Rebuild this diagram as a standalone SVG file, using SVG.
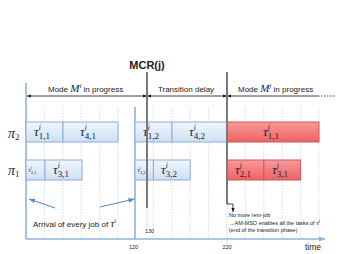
<svg xmlns="http://www.w3.org/2000/svg" width="339" height="254" viewBox="0 0 339 254">
<style>
.sans{font-family:"Liberation Sans",Arial,sans-serif;fill:#222}
.lbl{font-size:8px}
.math{font-family:"Liberation Serif","Times New Roman",serif;font-style:italic;fill:#1a2233}
.up{font-style:normal}
.tau{font-size:13px}
.sup{font-size:7.5px}
.sub{font-size:9px;font-style:normal}
.grid{stroke:#c3d6ee;stroke-width:0.8;stroke-dasharray:1.5 1.5}
.axis{stroke:#8fb3de;stroke-width:1.6;fill:none}
.bbox{fill:url(#gb);stroke:#8aaedb;stroke-width:1}
.rbox{fill:url(#gr);stroke:#cf5757;stroke-width:1}
.blk{stroke:#111;stroke-width:0.8;fill:none}
.gray{stroke:#7a7a7a;stroke-width:2;fill:none}
.blue{stroke:#5b8cc8;stroke-width:1.2;fill:none}
</style>
<defs>
<linearGradient id="gb" x1="0" y1="0" x2="0" y2="1"><stop offset="0" stop-color="#f1f6fd"/><stop offset="1" stop-color="#cfe0f4"/></linearGradient>
<linearGradient id="gr" x1="0" y1="0" x2="0" y2="1"><stop offset="0" stop-color="#f79a9a"/><stop offset="1" stop-color="#ee6262"/></linearGradient>
<marker id="ah" viewBox="0 0 10 10" refX="10" refY="5" markerWidth="5" markerHeight="5" orient="auto-start-reverse"><path d="M0,1 L10,5 L0,9 z" fill="#111"/></marker>
<marker id="ahb" viewBox="0 0 10 10" refX="10" refY="5" markerWidth="5" markerHeight="5" orient="auto"><path d="M0,1 L10,5 L0,9 z" fill="#5b8cc8"/></marker>
<marker id="ahs" viewBox="0 0 10 10" refX="10" refY="5" markerWidth="4" markerHeight="4" orient="auto"><path d="M0,1 L10,5 L0,9 z" fill="#8fb3de"/></marker>
</defs>
<rect width="339" height="254" fill="#fff"/>

<g id="grid">
<line class="grid" x1="44.4" y1="107" x2="44.4" y2="238"/>
<line class="grid" x1="62.8" y1="107" x2="62.8" y2="238"/>
<line class="grid" x1="81.2" y1="107" x2="81.2" y2="238"/>
<line class="grid" x1="99.6" y1="107" x2="99.6" y2="238"/>
<line class="grid" x1="118" y1="107" x2="118" y2="238"/>
<line class="grid" x1="153.4" y1="107" x2="153.4" y2="238"/>
<line class="grid" x1="171.8" y1="107" x2="171.8" y2="238"/>
<line class="grid" x1="190.2" y1="107" x2="190.2" y2="238"/>
<line class="grid" x1="208.6" y1="107" x2="208.6" y2="238"/>
<line class="grid" x1="245.4" y1="107" x2="245.4" y2="238"/>
<line class="grid" x1="263.8" y1="107" x2="263.8" y2="238"/>
<line class="grid" x1="282.2" y1="107" x2="282.2" y2="238"/>
<line class="grid" x1="300.6" y1="107" x2="300.6" y2="238"/>
<line class="grid" x1="319" y1="107" x2="319" y2="238"/>
</g>

<g id="axes">
<line class="axis" x1="26" y1="83" x2="26" y2="239"/>
<line class="axis" x1="135" y1="107" x2="135" y2="239"/>
<line class="axis" x1="26" y1="239" x2="325" y2="239" marker-end="url(#ahs)"/>
<text class="sans" x="133.5" y="249" font-size="5.5" text-anchor="middle">120</text>
<text class="sans" x="149.5" y="233" font-size="5.5" text-anchor="middle">130</text>
<text class="sans" x="227" y="249" font-size="5.5" text-anchor="middle">220</text>
<text class="sans" x="313" y="250" font-size="8.5" text-anchor="middle">time</text>
</g>

<g id="proc-labels">
<text class="math" x="8" y="138" font-size="14">π<tspan class="sub" font-size="10" dy="2">2</tspan></text>
<text class="math" x="8" y="175" font-size="14">π<tspan class="sub" font-size="10" dy="2">1</tspan></text>
</g>

<g id="t11i"><rect class="bbox" x="26" y="122" width="37" height="20"/>
<text class="math tau" x="34" y="135.5">τ<tspan class="sup" dy="-6">i</tspan><tspan class="sub" dx="-2" dy="9.5">1,1</tspan></text></g>
<g id="t41i"><rect class="bbox" x="63" y="122" width="55" height="20"/>
<text class="math tau" x="80" y="135.5">τ<tspan class="sup" dy="-6">i</tspan><tspan class="sub" dx="-2" dy="9.5">4,1</tspan></text></g>
<g id="t21i"><rect class="bbox" x="26" y="160" width="19" height="20"/>
<text class="math" x="28.5" y="172" font-size="6.5">τ<tspan font-size="4" dy="-3">i</tspan><tspan class="up" font-size="4.5" dx="-1" dy="4.5">2,1</tspan></text></g>
<g id="t31i"><rect class="bbox" x="45" y="160" width="37" height="20"/>
<text class="math tau" x="53" y="173.5">τ<tspan class="sup" dy="-6">i</tspan><tspan class="sub" dx="-2" dy="9.5">3,1</tspan></text></g>

<g id="t12i"><rect class="bbox" x="135" y="122" width="37" height="20"/>
<text class="math tau" x="143" y="135.5">τ<tspan class="sup" dy="-6">i</tspan><tspan class="sub" dx="-2" dy="9.5">1,2</tspan></text></g>
<g id="t42i"><rect class="bbox" x="172" y="122" width="55" height="20"/>
<text class="math tau" x="189" y="135.5">τ<tspan class="sup" dy="-6">i</tspan><tspan class="sub" dx="-2" dy="9.5">4,2</tspan></text></g>
<g id="t22i"><rect class="bbox" x="135" y="160" width="18.4" height="20"/>
<text class="math" x="137.5" y="172" font-size="6.5">τ<tspan font-size="4" dy="-3">i</tspan><tspan class="up" font-size="4.5" dx="-1" dy="4.5">2,2</tspan></text></g>
<g id="t32i"><rect class="bbox" x="153.4" y="160" width="36.8" height="20"/>
<text class="math tau" x="161" y="173.5">τ<tspan class="sup" dy="-6">i</tspan><tspan class="sub" dx="-2" dy="9.5">3,2</tspan></text></g>

<g id="t11j"><rect class="rbox" x="227" y="122" width="92" height="20"/>
<text class="math tau" x="263" y="135.5">τ<tspan class="sup" dy="-6">j</tspan><tspan class="sub" dx="-2" dy="9.5">1,1</tspan></text></g>
<g id="t21j"><rect class="rbox" x="227" y="160" width="36.8" height="20"/>
<text class="math tau" x="235" y="173.5">τ<tspan class="sup" dy="-6">j</tspan><tspan class="sub" dx="-2" dy="9.5">2,1</tspan></text></g>
<g id="t31j"><rect class="rbox" x="263.8" y="160" width="36.8" height="20"/>
<text class="math tau" x="272" y="173.5">τ<tspan class="sup" dy="-6">j</tspan><tspan class="sub" dx="-2" dy="9.5">3,1</tspan></text></g>

<g id="connectors">
<line class="blk" x1="147" y1="96" x2="27" y2="96" marker-end="url(#ah)" marker-start="url(#ah)"/>
<line class="blk" x1="147" y1="96" x2="227" y2="96" marker-end="url(#ah)" marker-start="url(#ah)"/>
<line class="blk" x1="318" y1="96" x2="227" y2="96" marker-end="url(#ah)"/>
<line class="blk" x1="318" y1="96" x2="336" y2="96" stroke-dasharray="1.5 1.5"/>
<line class="gray" x1="147" y1="72" x2="147" y2="208"/>
<line x1="147" y1="208" x2="147" y2="228" stroke="#aaa" stroke-width="0.6" stroke-dasharray="1 1"/>
<line class="gray" x1="227" y1="72" x2="227" y2="204"/>
<line x1="227" y1="204" x2="227" y2="244" stroke="#aaa" stroke-width="0.6" stroke-dasharray="1 1"/>
<path class="blk" d="M227,204 H233 V212" marker-end="url(#ah)"/>
<line class="blue" x1="55" y1="208" x2="29" y2="199" marker-end="url(#ahb)"/>
<line class="blue" x1="100" y1="207" x2="134.5" y2="199" marker-end="url(#ahb)"/>
</g>

<g id="labels">
<text class="sans" x="147" y="69" font-size="11" font-weight="bold" text-anchor="middle">MCR(j)</text>
<text class="sans lbl" x="48" y="92">Mode <tspan class="math" font-size="11">M</tspan><tspan class="math" font-size="7" dy="-4">i</tspan><tspan dy="4"> in progress</tspan></text>
<text class="sans lbl" x="186" y="92" text-anchor="middle">Transition delay</text>
<text class="sans lbl" x="238" y="92">Mode <tspan class="math" font-size="11">M</tspan><tspan class="math" font-size="7" dy="-4">j</tspan><tspan dy="4"> in progress</tspan></text>
<text class="sans" x="33" y="227" font-size="8">Arrival of every job of <tspan class="math" font-size="10.5">τ</tspan><tspan class="math" font-size="6.5" dy="-4">i</tspan></text>
<text class="sans" x="229" y="217" font-size="5.5">No more rem-job</text>
<text class="sans" x="229" y="224.5" font-size="5.5">→AM-MSO enables all the tasks of <tspan class="math" font-size="7">τ</tspan><tspan class="math" font-size="4.5" dy="-3">j</tspan></text>
<text class="sans" x="229" y="232" font-size="5.5">(end of the transition phase)</text>
</g>
</svg>
